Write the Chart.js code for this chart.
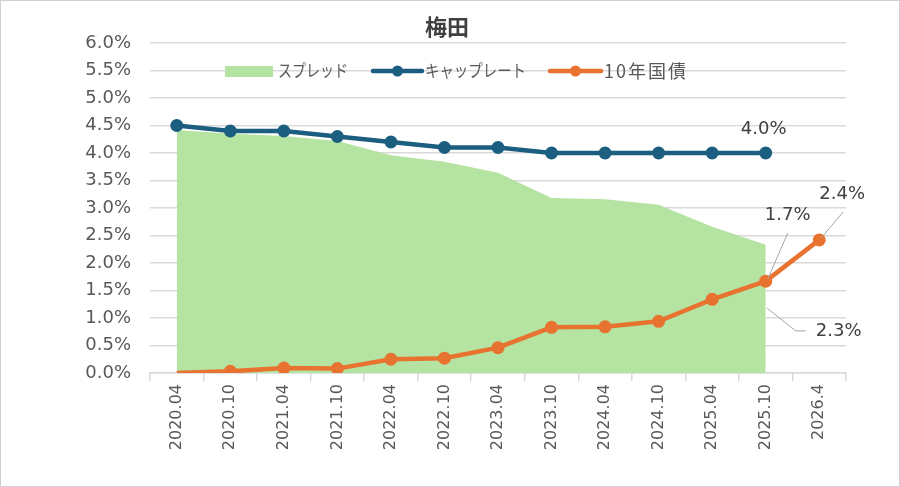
<!DOCTYPE html>
<html>
<head>
<meta charset="utf-8">
<script src="https://cdn.jsdelivr.net/npm/chart.js@4.4.1/dist/chart.umd.min.js"></script>
<style>
  html, body { margin: 0; padding: 0; background: #ffffff; }
  #wrap { width: 900px; height: 487px; position: relative; box-sizing: border-box; border: 1px solid #d0d0d0; }
  canvas { display: block; }
</style>
</head>
<body>
<div id="wrap"><canvas id="c" width="898" height="485"></canvas></div>
<script>
const title = '梅田';
const categories = ['2020.04','2020.10','2021.04','2021.10','2022.04','2022.10','2023.04','2023.10','2024.04','2024.10','2025.04','2025.10','2026.4'];
const seriesNames = ['スプレッド','キャップレート','10年国債'];
const spread = [4.42, 4.35, 4.31, 4.22, 3.96, 3.84, 3.64, 3.18, 3.16, 3.06, 2.66, 2.33, null];
const capRate = [4.5, 4.4, 4.4, 4.3, 4.2, 4.1, 4.1, 4.0, 4.0, 4.0, 4.0, 4.0, null];
const jgb10 = [0.0, 0.03, 0.09, 0.08, 0.25, 0.27, 0.46, 0.83, 0.84, 0.94, 1.34, 1.67, 2.42];
const yTicks = [0,0.5,1,1.5,2,2.5,3,3.5,4,4.5,5,5.5,6];

const GREEN = '#b5e3a1';
const BLUE = '#1b5e80';
const ORANGE = '#e8722f';
const GRID = '#d9d9d9';
const TXT = '#595959';
const LBL = '#404040';
const NUMFONT = '"DejaVu Sans", sans-serif';
const JPFONT = '"Noto Sans CJK JP", sans-serif';

const annot = {
  id: 'annot',
  afterDatasetsDraw(chart) {
    const ctx = chart.ctx;
    const x = chart.scales.x, y = chart.scales.y;
    ctx.save();
    ctx.font = '18px ' + NUMFONT;
    ctx.fillStyle = LBL;
    ctx.textAlign = 'center';
    ctx.textBaseline = 'middle';
    ctx.strokeStyle = '#a6a6a6';
    ctx.lineWidth = 1;
    const iLast = 11;
    const cx = x.getPixelForValue(iLast), cy = y.getPixelForValue(capRate[iLast]);
    ctx.fillText(capRate[iLast].toFixed(1) + '%', cx - 2, cy - 24);
    const jx = x.getPixelForValue(iLast), jy = y.getPixelForValue(jgb10[iLast]);
    ctx.beginPath(); ctx.moveTo(jx + 2, jy - 2); ctx.lineTo(jx + 22, jy - 48); ctx.stroke();
    ctx.fillText(jgb10[iLast].toFixed(1) + '%', jx + 22, jy - 66);
    const kx = x.getPixelForValue(12), ky = y.getPixelForValue(jgb10[12]);
    ctx.beginPath(); ctx.moveTo(kx + 2, ky - 2); ctx.lineTo(kx + 24, ky - 28); ctx.stroke();
    ctx.fillText(jgb10[12].toFixed(1) + '%', kx + 23, ky - 46);
    const sx = x.getPixelForValue(iLast), sy = y.getPixelForValue(spread[iLast]);
    ctx.beginPath(); ctx.moveTo(sx + 1, sy + 63); ctx.lineTo(sx + 30, sy + 86); ctx.lineTo(sx + 40, sy + 86); ctx.stroke();
    ctx.fillText(spread[iLast].toFixed(1) + '%', sx + 73, sy + 86);
    ctx.restore();
  },
  afterDraw(chart) {
    const ctx = chart.ctx;
    ctx.save();
    ctx.font = 'bold 22px ' + JPFONT;
    ctx.fillStyle = LBL;
    ctx.textAlign = 'center';
    ctx.textBaseline = 'middle';
    ctx.fillText(title, 446, 26);
    ctx.font = '17px ' + JPFONT;
    ctx.textAlign = 'left';
    const ly = 70;
    ctx.fillStyle = GREEN;
    ctx.fillRect(224, ly - 5, 48, 11);
    ctx.fillStyle = TXT;
    ctx.fillText(seriesNames[0], 277, ly, 70);
    const drawLineItem = (x0, x1, color) => {
      ctx.strokeStyle = color; ctx.lineWidth = 4.5; ctx.lineCap = 'round';
      ctx.beginPath(); ctx.moveTo(x0, ly); ctx.lineTo(x1, ly); ctx.stroke();
      ctx.fillStyle = color; ctx.beginPath(); ctx.arc((x0 + x1) / 2, ly, 5.5, 0, Math.PI * 2); ctx.fill();
    };
    drawLineItem(372, 421, BLUE);
    ctx.fillStyle = TXT;
    ctx.fillText(seriesNames[1], 424, ly, 101);
    drawLineItem(549, 600, ORANGE);
    ctx.fillStyle = TXT;
    ctx.font = '18px ' + JPFONT;
    if ('letterSpacing' in ctx) ctx.letterSpacing = '2px';
    ctx.fillText(seriesNames[2], 603, ly);
    ctx.restore();
  }
};

new Chart(document.getElementById('c'), {
  type: 'line',
  data: {
    labels: categories,
    datasets: [
      { label: seriesNames[0], data: spread, fill: 'origin', backgroundColor: GREEN, borderWidth: 0, borderColor: 'rgba(0,0,0,0)', pointRadius: 0, order: 3 },
      { label: seriesNames[1], data: capRate, borderColor: BLUE, backgroundColor: BLUE, borderWidth: 4.5, pointRadius: 6.5, pointBorderWidth: 0, pointHoverRadius: 6.5, fill: false, order: 2 },
      { label: seriesNames[2], data: jgb10, borderColor: ORANGE, backgroundColor: ORANGE, borderWidth: 4.5, pointRadius: jgb10.map((v, i) => i === 0 ? 0 : 6.5), pointBorderWidth: 0, pointHoverRadius: 6.5, fill: false, order: 1 }
    ]
  },
  options: {
    responsive: false,
    animation: false,
    events: [],
    layout: { padding: { top: 42, right: 53, left: 0, bottom: 0 } },
    plugins: { legend: { display: false }, title: { display: false }, tooltip: { enabled: false } },
    scales: {
      x: {
        offset: true,
        grid: { display: true, drawOnChartArea: false, drawTicks: true, tickLength: 8, color: GRID, lineWidth: 1.5, offset: true },
        border: { display: true, color: GRID, width: 1.5 },
        ticks: { color: TXT, font: { family: NUMFONT, size: 16 }, minRotation: 90, maxRotation: 90, padding: 3, autoSkip: false },
        afterFit(s) { s.height = 113; }
      },
      y: {
        min: 0, max: 6,
        afterBuildTicks(s) { s.ticks = yTicks.map(v => ({ value: v })); },
        grid: { color: GRID, lineWidth: 1.5, drawTicks: false },
        border: { display: false },
        ticks: { color: TXT, font: { family: NUMFONT, size: 18 }, padding: 19, callback: v => Number(v).toFixed(1) + '%' },
        afterFit(s) { s.width = 149; }
      }
    }
  },
  plugins: [annot]
});
</script>
</body>
</html>
